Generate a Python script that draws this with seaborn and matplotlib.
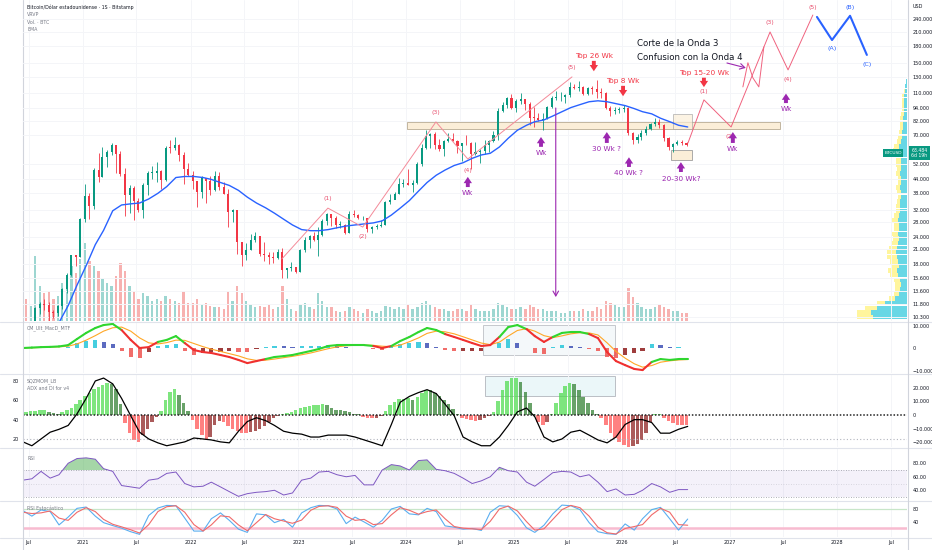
import numpy as np
import pandas as pd
import matplotlib
matplotlib.use("Agg")
import matplotlib.pyplot as plt
import matplotlib.dates as mdates
from matplotlib.patches import Rectangle
from matplotlib.lines import Line2D
from matplotlib.ticker import NullLocator, NullFormatter
import seaborn as sns

# ---------------- semi-monthly candles (thousand USD) ----------------
first_open = 9.5
close = [
    9.45, 9.14, 9.19, 11.35, 11.85, 11.65, 10.8, 10.78, 11.5, 13.8, 15.95, 19.7, 19.4, 29.0,
    36.8, 33.1, 48.6, 45.1, 55.6, 58.8, 63.2, 57.7, 46.4, 37.3, 40.2, 35.0, 31.8, 41.5, 47.1, 47.1, 48.1, 43.8, 61.5, 61.3, 63.6, 57.0, 48.9, 46.3,
    43.1, 38.5, 44.5, 43.2, 39.3, 45.5, 40.6, 37.7, 31.3, 31.8, 22.6, 19.9, 20.8, 23.3, 24.1, 20.0, 19.7, 19.4, 19.1, 20.5, 16.9, 17.2, 17.4, 16.5,
    20.9, 23.1, 24.3, 23.1, 24.4, 28.5, 30.4, 29.3, 27.2, 27.2, 25.1, 30.5, 30.3, 29.2, 29.2, 26.0, 26.6, 27.0, 27.2, 34.6, 35.5, 37.7, 41.9, 42.3,
    41.7, 42.6, 51.9, 61.1, 69.5, 71.3, 63.4, 60.6, 66.2, 67.5, 66.0, 62.7, 64.8, 64.6, 57.6, 59.0, 59.2, 63.3, 66.0, 70.2, 91.0, 96.4, 104.5, 93.4,
    100.5, 102.4, 97.5, 84.4, 84.3, 82.5, 83.6, 94.2, 103.5, 104.6, 105.5, 107.1, 117.0, 115.8, 117.4, 108.2, 115.3, 114.0, 111.0, 109.6, 94.0, 91.0, 92.0, 93.0,
    94.0, 72.0, 67.0, 69.0, 72.0, 75.0, 79.0, 81.0, 78.0, 68.0, 62.0, 64.0, 65.5, 64.5, 63.484,
]
high = [
    10.38, 9.8, 9.45, 11.45, 12.1, 12.45, 12.05, 11.1, 11.7, 14.0, 16.45, 19.8, 19.9, 29.3,
    41.9, 38.0, 49.7, 58.3, 61.7, 60.0, 64.9, 63.5, 59.5, 49.8, 41.3, 40.9, 36.0, 42.3, 48.1, 50.5, 52.9, 48.5, 62.9, 67.0, 69.0, 63.8, 59.1, 52.1,
    47.9, 43.5, 45.8, 44.9, 45.4, 48.2, 47.4, 42.9, 39.9, 32.3, 31.9, 22.6, 22.5, 24.6, 25.2, 24.3, 22.8, 20.4, 20.4, 21.0, 21.4, 17.2, 18.4, 17.5,
    21.1, 23.9, 24.4, 25.2, 26.5, 28.9, 31.0, 30.5, 29.8, 28.4, 27.5, 31.4, 31.8, 30.4, 30.0, 29.2, 27.0, 27.5, 28.6, 35.2, 37.9, 38.4, 44.7, 44.0,
    48.9, 43.7, 52.8, 64.0, 73.8, 71.8, 72.7, 67.2, 66.5, 71.9, 71.9, 66.9, 64.9, 70.0, 65.5, 65.1, 60.7, 66.5, 67.0, 73.6, 93.3, 99.6, 105.0, 108.3,
    102.7, 109.6, 102.5, 99.5, 95.0, 88.8, 88.5, 95.8, 105.7, 111.9, 110.4, 108.9, 123.2, 120.9, 124.4, 117.6, 116.8, 117.9, 126.2, 116.0, 111.0, 96.0, 95.0, 95.0,
    97.0, 95.0, 73.0, 71.0, 74.0, 77.0, 80.0, 84.0, 83.0, 79.0, 69.0, 65.0, 66.5, 66.5, 65.5,
]
low = [
    8.9, 8.85, 8.95, 9.05, 10.6, 11.1, 9.9, 10.2, 10.4, 11.2, 13.2, 15.9, 17.6, 19.3,
    28.1, 29.0, 32.3, 43.0, 45.0, 50.4, 57.0, 47.0, 45.7, 30.0, 31.0, 28.8, 31.1, 29.3, 37.3, 44.4, 43.0, 39.6, 43.3, 58.0, 60.1, 53.3, 42.0, 45.5,
    39.6, 32.9, 36.3, 34.3, 37.2, 39.0, 39.2, 37.6, 26.7, 28.0, 20.1, 17.6, 18.8, 20.8, 22.6, 19.6, 18.5, 18.1, 18.2, 18.9, 15.6, 15.5, 16.8, 16.3,
    16.5, 20.4, 21.4, 23.0, 19.6, 24.2, 27.3, 26.9, 26.3, 26.3, 24.8, 25.1, 29.6, 28.9, 28.7, 25.2, 24.9, 26.0, 26.5, 27.1, 34.1, 35.6, 37.6, 40.5,
    41.4, 38.5, 41.9, 50.6, 60.8, 61.5, 60.8, 59.2, 56.5, 65.1, 65.9, 58.4, 53.5, 63.2, 49.0, 57.1, 52.6, 57.5, 58.9, 65.5, 66.8, 89.4, 94.0, 92.2,
    89.3, 97.8, 91.2, 78.2, 76.6, 81.6, 74.4, 83.1, 93.3, 102.0, 100.4, 98.2, 105.3, 114.7, 112.0, 107.3, 107.3, 108.7, 104.0, 103.5, 93.0, 86.0, 88.0, 89.0,
    90.0, 70.0, 64.0, 65.0, 67.0, 70.0, 74.0, 77.0, 76.0, 66.0, 60.0, 59.0, 63.0, 63.0, 62.5,
]
volume = [
    18, 22, 15, 65, 35, 28, 30, 22, 25, 38, 45, 55, 48, 62,
    78, 60, 55, 50, 42, 38, 35, 45, 58, 50, 35, 30, 22, 28, 25, 20, 22, 20, 25, 22, 20, 18, 30, 18,
    18, 22, 16, 18, 15, 14, 14, 12, 30, 20, 35, 28, 20, 16, 14, 15, 14, 16, 12, 14, 35, 22, 12, 10,
    16, 18, 14, 12, 28, 20, 14, 14, 10, 9, 10, 14, 12, 10, 8, 12, 10, 8, 10, 15, 14, 12, 14, 12,
    16, 12, 14, 18, 20, 16, 14, 12, 12, 10, 10, 12, 12, 10, 16, 12, 10, 10, 10, 12, 18, 16, 14, 12,
    12, 14, 12, 16, 14, 12, 12, 10, 10, 10, 8, 8, 10, 10, 10, 12, 10, 10, 14, 12, 20, 18, 16, 14,
    14, 33, 24, 18, 14, 12, 12, 14, 16, 14, 12, 10, 10, 8, 8,
]
momentum = [
    2.0, 2.5, 3.0, 3.0, 3.5, 3.5, 2.5, 1.5, 1.0, 2.0, 4.0, 5.5, 8.0, 11.0,
    14.0, 16.5, 19.0, 20.5, 22.0, 23.5, 23.0, 19.0, 8.0, -6.0, -13.0, -18.0, -20.0, -15.0, -10.0, -5.0, -1.5, 3.0, 11.0, 17.0, 19.0, 15.0, 9.0, 3.0,
    -4.0, -10.0, -15.0, -18.0, -16.0, -7.0, -4.5, -5.5, -8.0, -10.0, -12.0, -13.0, -13.0, -12.5, -12.0, -10.0, -8.0, -5.0, -2.5, -0.5, 0.5, 1.5, 2.5, 4.0,
    5.0, 6.0, 6.5, 7.0, 7.5, 8.0, 7.5, 5.5, 4.0, 3.5, 3.0, 2.0, 1.0, 0.5, -1.5, -2.5, -2.5, -2.0, -0.5, 3.0, 7.0, 9.5, 11.5, 12.0,
    12.5, 11.0, 13.0, 16.0, 18.5, 18.0, 16.0, 14.0, 11.0, 8.0, 4.5, 0.5, -2.0, -3.0, -4.0, -4.5, -3.5, -2.0, -0.5, 2.0, 10.0, 18.0, 25.0, 27.0,
    27.0, 24.0, 17.0, 9.0, 0.5, -5.0, -7.0, -5.0, 1.0, 9.0, 16.0, 21.0, 23.5, 23.0, 18.0, 13.0, 9.0, 4.0, 0.5, -2.5, -7.0, -13.0, -17.0, -20.0,
    -22.0, -23.5, -23.0, -21.0, -18.0, -13.0, -5.0, 1.0, 1.0, -2.5, -4.5, -6.0, -7.0, -7.5, -7.5,
]

# ---------------- monthly indicator readings ----------------
ema = [
    8.0, 8.3, 8.8, 9.2, 9.7, 11.6, 14.4,
    17.7, 22.1, 25.7, 31.6, 33.6, 34.0, 34.3, 35.8, 38.0, 40.8, 44.9, 45.4,
    45.4, 44.9, 44.0, 42.6, 41.3, 39.2, 36.5, 34.3, 32.6, 30.8, 28.9, 27.2,
    25.9, 25.6, 25.6, 25.9, 26.4, 26.9, 27.2, 27.5, 27.8, 28.4, 30.2, 32.5,
    35.2, 38.9, 42.6, 46.0, 48.6, 51.0, 52.5, 55.0, 57.0, 58.0, 62.0, 68.0,
    74.0, 78.0, 81.0, 82.5, 86.0, 90.0, 94.0, 97.0, 100.0, 101.0, 100.0, 98.0,
    96.0, 93.0, 90.0, 88.0, 84.0, 81.0, 78.0, 76.6,
]
macd = [
    0.0, 0.2, 0.4, 0.5, 0.7, 1.3, 4.0,
    6.7, 8.9, 10.2, 10.7, 8.0, 3.6, 0.0, 0.4, 2.7, 3.6, 5.3, 2.2,
    -0.9, -1.8, -2.2, -3.1, -4.0, -5.3, -6.7, -5.8, -4.9, -4.0, -3.6, -3.1,
    -2.2, -1.3, -0.4, 0.9, 1.3, 1.3, 1.3, 1.3, 0.9, 0.0, 0.9, 3.1,
    4.9, 7.1, 8.9, 8.0, 6.2, 4.9, 3.6, 2.2, 0.9, 1.3, 4.9, 9.3,
    10.2, 8.4, 5.3, 2.7, 4.9, 6.7, 7.1, 7.1, 6.2, 4.4, -1.8, -5.8,
    -7.6, -9.3, -9.8, -6.2, -4.9, -5.3, -4.9, -4.9,
]
signal = [
    0.0, 0.1, 0.25, 0.4, 0.55, 0.8, 1.8,
    3.5, 5.5, 7.5, 9.0, 9.3, 7.5, 4.5, 2.3, 1.8, 2.4, 3.5, 3.4,
    2.0, 0.6, -0.5, -1.5, -2.5, -3.5, -4.8, -5.5, -5.4, -4.9, -4.3, -3.7,
    -3.0, -2.2, -1.3, -0.3, 0.5, 1.0, 1.2, 1.3, 1.2, 0.8, 0.6, 1.3,
    2.8, 4.5, 6.5, 7.5, 7.2, 6.3, 5.0, 3.6, 2.2, 1.5, 2.6, 5.3,
    7.8, 8.6, 7.5, 5.5, 4.6, 5.4, 6.3, 6.8, 6.7, 5.8, 2.3, -1.5,
    -4.5, -7.0, -8.5, -7.8, -6.3, -5.7, -5.3, -5.1,
]
macd_hist = [
    0.0, 0.1, 0.15, 0.1, 0.15, 0.5, 2.2,
    3.2, 3.4, 2.7, 1.7, -1.3, -3.9, -4.5, -1.9, 0.9, 1.2, 1.8, -1.2,
    -2.9, -2.4, -1.7, -1.6, -1.5, -1.8, -1.9, -0.3, 0.5, 0.9, 0.7, 0.6,
    0.8, 0.9, 0.9, 1.2, 0.8, 0.3, 0.1, 0.0, -0.3, -0.8, 0.3, 1.8,
    2.1, 2.6, 2.4, 0.5, -1.0, -1.4, -1.4, -1.4, -1.3, -0.2, 2.3, 4.0,
    2.4, -0.2, -2.2, -2.8, 0.3, 1.3, 0.8, 0.3, -0.5, -1.4, -4.1, -4.3,
    -3.1, -2.3, -1.3, 1.6, 1.4, 0.4, 0.4, 0.2,
]
adx = [
    17, 13, 20, 27, 30, 34, 46,
    62, 80, 83, 77, 62, 44, 27, 20, 16, 13, 15, 17,
    21, 20, 19, 17, 16, 28, 38, 42, 39, 34, 28, 26,
    25, 22, 22, 24, 24, 24, 22, 19, 16, 13, 35, 58,
    64, 68, 71, 67, 56, 44, 22, 17, 13, 13, 22, 34,
    48, 52, 43, 22, 17, 20, 27, 29, 24, 19, 16, 22,
    35, 40, 40, 37, 26, 26, 30, 33,
]
rsi = [
    55, 57, 68, 58, 63, 80, 87,
    88, 86, 72, 68, 47, 45, 43, 55, 57, 65, 67, 50,
    45, 46, 52, 45, 38, 31, 35, 37, 38, 40, 33, 36,
    55, 58, 67, 68, 63, 60, 62, 48, 48, 70, 78, 76,
    70, 84, 85, 71, 69, 65, 58, 50, 54, 60, 74, 69,
    67, 52, 46, 56, 66, 68, 67, 60, 63, 52, 38, 42,
    33, 34, 40, 50, 45, 37, 41, 41,
]
stoch_k = [
    75, 58, 77, 72, 31, 55, 82,
    86, 58, 38, 29, 21, 10, 2, 60, 83, 91, 90, 52,
    12, 12, 50, 68, 45, 18, 8, 65, 62, 38, 48, 24,
    68, 84, 91, 90, 80, 35, 55, 40, 24, 45, 80, 88,
    65, 62, 82, 72, 28, 24, 18, 20, 14, 70, 90, 88,
    60, 22, 8, 30, 65, 92, 90, 78, 38, 10, 4, 2,
    34, 15, 50, 78, 85, 50, 15, 49,
]
stoch_d = [
    70, 66, 68, 74, 52, 45, 70,
    84, 72, 48, 33, 25, 16, 6, 32, 72, 87, 90, 70,
    32, 12, 31, 59, 56, 31, 13, 38, 63, 50, 43, 36,
    46, 76, 88, 90, 85, 58, 45, 48, 32, 35, 62, 84,
    76, 64, 72, 77, 50, 26, 21, 19, 17, 42, 80, 89,
    74, 41, 15, 19, 48, 78, 91, 84, 58, 24, 7, 3,
    20, 26, 32, 62, 82, 70, 32, 30,
]

# ---------------- visible range volume profile ----------------
vp_price = [10.3, 10.8, 11.3, 11.9, 12.5, 13.1, 13.8, 14.5, 15.2, 16.0, 16.8, 17.6, 18.5, 19.4, 20.4, 21.4, 22.5,
            23.6, 24.8, 26.0, 27.3, 28.7, 30.1, 31.6, 33.2, 34.9, 36.6, 38.5, 40.4, 42.4, 44.5, 46.8, 49.1, 51.6,
            54.1, 56.8, 59.7, 62.7, 65.8, 69.1, 72.6, 76.2, 80.0, 84.0, 88.2, 92.6, 97.2, 102, 107, 112, 118, 124]
vp_up = [34, 36, 30, 22, 12, 8, 7, 6, 7, 9, 10, 8, 9, 10, 11, 10, 9, 8, 9, 8, 8, 9, 8, 7, 7, 7,
         6, 6, 7, 6, 6, 7, 6, 6, 6, 7, 8, 8, 6, 5, 5, 4, 4, 4, 3, 3, 3, 3, 3, 2, 2, 1]
vp_down = [16, 14, 12, 8, 6, 5, 5, 6, 6, 8, 9, 8, 8, 10, 9, 8, 7, 6, 6, 5, 5, 6, 5, 4, 4, 3,
           3, 4, 4, 3, 3, 4, 4, 5, 5, 6, 6, 5, 4, 4, 3, 3, 3, 3, 3, 2, 2, 2, 2, 1, 0, 0]

price_ticks = [240, 210, 180, 150, 130, 110, 94, 82, 70, 52, 44, 38, 32, 28, 24, 21, 18, 15.6, 13.6, 11.8, 10.3]
x_tick_dates = ["2020-07-01", "2021-01-01", "2021-07-01", "2022-01-01", "2022-07-01", "2023-01-01",
                "2023-07-01", "2024-01-01", "2024-07-01", "2025-01-01", "2025-07-01", "2026-01-01",
                "2026-07-01", "2027-01-01", "2027-07-01", "2028-01-01", "2028-07-01"]
x_tick_labels = ["Jul", "2021", "Jul", "2022", "Jul", "2023", "Jul", "2024", "Jul", "2025", "Jul",
                 "2026", "Jul", "2027", "Jul", "2028", "Jul"]

# ---------------- drawings on the chart ----------------
wave_dates = ["2022-11-06", "2023-04-11", "2023-08-07", "2024-04-11", "2024-07-28", "2025-07-16"]
wave_prices = [19.0, 32.5, 26.6, 80.8, 54.6, 130]
wave_label_prices = [35.8, 24.0, 89.5, 48.6, 143]
proj_dates = ["2026-08-13", "2026-10-06", "2027-01-06", "2027-05-18", "2027-07-18", "2027-10-10"]
proj_prices = [64.7, 102, 76.6, 209, 140, 250]
proj_label_dates = ["2026-10-06", "2027-01-02", "2027-05-18", "2027-07-18", "2027-10-10"]
proj_label_prices = [111, 68.9, 231, 126, 270]
zig_dates = ["2027-02-15", "2027-03-04", "2027-03-21", "2027-04-10", "2027-04-27"]
zig_prices = [117, 151, 128.6, 117, 178.5]
abc_dates = ["2027-10-24", "2027-12-14", "2028-02-13", "2028-04-10"]
abc_prices = [245, 192, 248, 164]
abc_labels = ["(A)", "(B)", "(C)"]
abc_label_prices = [175, 272, 149]
up_marks = [("2024-07-28", 40.6, 45.2, "Wk", 38.1),
            ("2025-04-02", 62.1, 68.9, "Wk", 58.4),
            ("2025-11-11", 64.7, 72.6, "30 Wk ?", 60.8),
            ("2026-01-25", 50.2, 55.6, "40 Wk ?", 47.1),
            ("2026-07-20", 47.6, 52.8, "20-30 Wk?", 44.4),
            ("2027-01-12", 64.7, 72.6, "Wk", 60.8),
            ("2027-07-11", 98.6, 109, "Wk", 92.2)]
top_marks = [("2025-09-28", "Top 26 Wk", 162, 154, 138),
             ("2026-01-05", "Top 8 Wk", 124.6, 118.3, 106),
             ("2026-10-06", "Top 15-20 Wk", 135.6, 128.9, 116.7)]

sns.set_theme(style="white")
plt.rcParams["font.family"] = ["DejaVu Sans"]

W, H = 932, 550
fig = plt.figure(figsize=(W / 100, H / 100), dpi=100)
fig.patch.set_facecolor("white")


def pane(x0, y0, x1, y1):
    return fig.add_axes([x0 / W, 1 - y1 / H, (x1 - x0) / W, (y1 - y0) / H])


def dn(s):
    return mdates.datestr2num(s)


months = pd.date_range("2020-06-01", "2026-08-01", freq="MS")
halves = []
for m in months:
    halves += [m, m + pd.Timedelta(days=15)]
halves = pd.DatetimeIndex(halves[:len(close)])
cx = mdates.date2num(halves + pd.Timedelta(days=7))
mx = mdates.date2num(months + pd.Timedelta(days=11))
xlim = (dn("2020-06-12"), dn("2028-08-24"))
xt = dn(x_tick_dates)
TICK = 3.5
TXT = "#131722"
GRID = "#f4f5f8"


def style(a, ylim):
    a.set_xlim(*xlim)
    a.set_ylim(*ylim)
    a.set_xticks(xt)
    a.tick_params(axis="x", length=0, labelbottom=False)
    a.tick_params(axis="y", length=0, labelsize=TICK, labelcolor=TXT, pad=4)
    a.grid(True, axis="x", color=GRID, lw=0.7)
    a.patch.set_visible(False)
    for s in a.spines.values():
        s.set_visible(False)


def signed(v, dec):
    if v == 0:
        return "0"
    return ("\u2212" if v < 0 else "") + f"{abs(v):.{dec}f}"


# ---------------- main price pane ----------------
ax = pane(23, 0, 907, 321)
axv = ax.twinx()
axp = pane(807, 0, 907, 321)
axv.set_zorder(1)
axp.set_zorder(2)
ax.set_zorder(3)

c = np.array(close)
h = np.array(high)
l = np.array(low)
o = np.r_[first_open, c[:-1]]
up = c >= o
col = np.where(up, "#089981", "#f23645")

style(axv, (0, 321))
axv.set_yticks([])
axv.bar(cx, volume, width=8, color=np.where(up, "#26a69a", "#ef5350"), alpha=0.45, lw=0)

axp.set_yscale("log")
axp.set_ylim(9.86, 293)
axp.set_xlim(100, 0)
vp = np.array(vp_price)
axp.barh(vp, vp_up, height=vp * 0.045, color="#4dd0e1", alpha=0.85, lw=0)
axp.barh(vp, vp_down, left=vp_up, height=vp * 0.045, color="#fff59d", lw=0)
axp.axis("off")

ax.set_yscale("log")
style(ax, (9.86, 293))
ax.yaxis.tick_right()
ax.set_yticks(price_ticks)
ax.set_yticklabels([f"{v:.3f}" for v in price_ticks])
ax.yaxis.set_minor_locator(NullLocator())
ax.yaxis.set_minor_formatter(NullFormatter())
ax.grid(True, axis="y", color=GRID, lw=0.7)

ax.vlines(cx, l, h, colors=col, lw=0.6, zorder=3)
ax.bar(cx, np.maximum(np.abs(c - o), c * 0.006), bottom=np.minimum(o, c), width=7,
       color=col, lw=0, zorder=3)
sns.lineplot(x=mx, y=ema, ax=ax, color="#2962ff", lw=1.0, zorder=4)
ax.set_xlabel("")
ax.set_ylabel("")

# support band and boxes
ax.add_patch(Rectangle((dn("2024-01-04"), 75.3), dn("2027-06-21") - dn("2024-01-04"), 80.8 - 75.3,
                       fc="#fbeed8", ec="#b9ab93", lw=0.6, zorder=2))
ax.add_patch(Rectangle((dn("2026-06-23"), 75.3), dn("2026-08-26") - dn("2026-06-23"), 87.4 - 75.3,
                       fc="#fbeed8", ec="#9e9e9e", lw=0.6, alpha=0.7, zorder=2))
ax.add_patch(Rectangle((dn("2026-06-16"), 54.2), dn("2026-08-26") - dn("2026-06-16"), 60.0 - 54.2,
                       fc="#fbeed8", ec="#9e9e9e", lw=0.6, zorder=2))

# past impulse 1-5
ax.plot(dn(wave_dates), wave_prices, color="#f48a99", lw=0.7, zorder=5)
for i in range(5):
    ax.text(dn(wave_dates[i + 1]), wave_label_prices[i], f"({i + 1})", ha="center", va="center",
            fontsize=4.5, color="#e8506e", zorder=6)

# projected impulse
ax.plot(dn(proj_dates), proj_prices, color="#f0627e", lw=0.7, zorder=5)
ax.plot(dn(zig_dates), zig_prices, color="#f0627e", lw=0.7, zorder=5)
for i in range(5):
    ax.text(dn(proj_label_dates[i]), proj_label_prices[i], f"({i + 1})", ha="center", va="center",
            fontsize=4.5, color="#e8506e", zorder=6)

# ABC correction
ax.plot(dn(abc_dates), abc_prices, color="#2962ff", lw=1.5, zorder=5)
for i in range(3):
    ax.text(dn(abc_dates[i + 1]), abc_label_prices[i], abc_labels[i], ha="center", va="center",
            fontsize=4.6, color="#2962ff", zorder=6)


def block_arrow(x, y_from, y_to, color):
    ax.annotate("", xy=(x, y_to), xytext=(x, y_from),
                arrowprops=dict(arrowstyle="simple,head_length=0.45,head_width=0.6,tail_width=0.28",
                                fc=color, ec="none", shrinkA=0, shrinkB=0, mutation_scale=10),
                zorder=6)


for d, y0, y1, label, ly in up_marks:
    block_arrow(dn(d), y0, y1, "#9c27b0")
    ax.text(dn(d), ly, label, ha="center", va="center", fontsize=5.2, color="#9c27b0", zorder=6)

for d, label, ty, y0, y1 in top_marks:
    ax.text(dn(d), ty, label, ha="center", va="center", fontsize=5.3, color="#f23645", zorder=6)
    block_arrow(dn(d), y0, y1, "#f23645")

ax.annotate("", xy=(dn("2025-05-22"), 12.7), xytext=(dn("2025-05-22"), 93.6),
            arrowprops=dict(arrowstyle="->,head_length=0.35,head_width=0.2", color="#9c27b0",
                            lw=0.8, shrinkA=0, shrinkB=0, mutation_scale=10), zorder=6)

ax.text(dn("2026-02-21"), 186, "Corte de la Onda 3", ha="left", va="center", fontsize=6.2,
        color=TXT, zorder=6)
ax.text(dn("2026-02-21"), 160, "Confusion con la Onda 4", ha="left", va="center", fontsize=6.2,
        color=TXT, zorder=6)
ax.annotate("", xy=(dn("2027-02-25"), 143), xytext=(dn("2026-12-23"), 150.6),
            arrowprops=dict(arrowstyle="->,head_length=0.35,head_width=0.2", color="#9c27b0",
                            lw=0.8, shrinkA=0, shrinkB=0, mutation_scale=10), zorder=6)

# ---------------- MACD pane ----------------
axm = pane(23, 322, 907, 373)
style(axm, (-11.1, 11.56))
axm.yaxis.tick_right()
axm.set_yticks([10, 0, -10])
axm.set_yticklabels([signed(v, 3) for v in [10, 0, -10]])
hv = np.array(macd_hist)
hp = np.r_[hv[0], hv[:-1]]
hcol = np.where(hv >= 0, np.where(hv >= hp, "#26c6da", "#3f51b5"),
                np.where(hv < hp, "#ef5350", "#8e1b1b"))
axm.bar(mx, hv, width=14, color=hcol, alpha=0.85, lw=0)
sns.lineplot(x=mx, y=signal, ax=axm, color="#ffa726", lw=0.8)
for i in range(len(mx) - 1):
    seg_col = "#2fd62f" if macd[i] >= signal[i] else "#f03030"
    axm.plot(mx[i:i + 2], macd[i:i + 2], color=seg_col, lw=1.5, solid_capstyle="round")
axm.add_patch(Rectangle((dn("2024-09-17"), -3.1), dn("2025-12-08") - dn("2024-09-17"), 13.3,
                        fc="#eef4f8", ec="#9598a1", lw=0.6, alpha=0.6, zorder=0))
axm.set_xlabel("")
axm.set_ylabel("")

# ---------------- SQZMOM + ADX pane ----------------
axs = pane(23, 374, 907, 447)
style(axs, (-23.5, 30.1))
axa = axs.twinx()
style(axa, (11.7, 87.2))
axs.yaxis.tick_right()
axa.yaxis.tick_left()
axs.set_yticks([20, 10, 0, -10, -20])
axs.set_yticklabels([signed(v, 3) for v in [20, 10, 0, -10, -20]])
axa.set_yticks([80, 60, 40, 20])
axa.set_yticklabels(["80", "60", "40", "20"])
axa.tick_params(axis="y", pad=3)
mv = np.array(momentum)
mp = np.r_[mv[0], mv[:-1]]
mcol = np.where(mv >= 0, np.where(mv >= mp, "#4cdb4c", "#2f7f2f"),
                np.where(mv <= mp, "#ff5050", "#8b1c1c"))
axs.bar(cx, mv, width=12, color=mcol, alpha=0.72, lw=0)
axs.axhline(0, color="#222222", ls=(0, (1, 1.2)), lw=1.1)
axs.add_patch(Rectangle((dn("2024-09-24"), 14.0), dn("2025-12-08") - dn("2024-09-24"), 14.7,
                        fc="#e3f4f7", ec="#9598a1", lw=0.6, alpha=0.7, zorder=0))
axa.axhline(20, color="#b2b5be", ls=(0, (1, 2)), lw=0.8)
sns.lineplot(x=mx, y=adx, ax=axa, color="black", lw=0.9)
axa.set_xlabel("")
axa.set_ylabel("")

# ---------------- RSI pane ----------------
axr = pane(23, 448, 907, 500)
style(axr, (25.6, 102.6))
axr.yaxis.tick_right()
axr.set_yticks([80, 60, 40])
axr.set_yticklabels(["80.00", "60.00", "40.00"])
axr.axhspan(30, 70, color="#7e57c2", alpha=0.08, lw=0)
for lv, a in [(70, 1.0), (30, 1.0), (50, 0.4)]:
    axr.axhline(lv, color="#9598a1", ls=(0, (1, 2)), lw=0.6, alpha=a)
rv = np.array(rsi, dtype=float)
axr.fill_between(mx, rv, 70, where=rv > 70, interpolate=True, color="#4caf50", alpha=0.5, lw=0)
sns.lineplot(x=mx, y=rv, ax=axr, color="#7e57c2", lw=0.7)
axr.set_xlabel("")
axr.set_ylabel("")

# ---------------- Stochastic RSI pane ----------------
axk = pane(23, 501, 907, 537)
style(axk, (-6.2, 104.6))
axk.yaxis.tick_right()
axk.set_yticks([80, 40])
axk.set_yticklabels(["80", "40"])
axk.axhline(80, color="#c8e6c9", lw=0.9)
axk.axhline(20, color="#f8bbd0", lw=1.8)
sns.lineplot(x=mx, y=stoch_k, ax=axk, color="#5aaef0", lw=0.8)
sns.lineplot(x=mx, y=stoch_d, ax=axk, color="#f06a6a", lw=0.8)
axk.set_xlabel("")
axk.set_ylabel("")
axk.tick_params(axis="x", labelbottom=True, labelsize=TICK, labelcolor=TXT, pad=2.5)
axk.set_xticklabels(x_tick_labels)

# ---------------- frame, separators and texts ----------------
for y in [321.5, 373.5, 447.5, 500.5, 537.5]:
    fig.add_artist(Line2D([0, 1], [1 - y / H] * 2, color="#e0e3eb", lw=0.8, transform=fig.transFigure))
fig.add_artist(Line2D([907.5 / W] * 2, [0, 1], color="#d1d4dc", lw=0.8, transform=fig.transFigure))
fig.add_artist(Line2D([23 / W] * 2, [0, 1], color="#d1d4dc", lw=0.8, transform=fig.transFigure))


def ftext(x, y, s, **kw):
    fig.text(x / W, 1 - y / H, s, va="center", **kw)


ftext(27, 7, "Bitcoin/Dólar estadounidense · 1S · Bitstamp", fontsize=3.4, color=TXT)
ftext(27, 14.5, "VRVP", fontsize=3.4, color="#787b86")
ftext(27, 22, "Vol. · BTC", fontsize=3.4, color="#787b86")
ftext(27, 29.5, "EMA", fontsize=3.4, color="#787b86")
ftext(27, 328, "CM_Ult_MacD_MTF", fontsize=3.4, color="#787b86")
ftext(27, 381, "SQZMOM_LB", fontsize=3.4, color="#787b86")
ftext(27, 388, "ADX and DI for v4", fontsize=3.4, color="#787b86")
ftext(27, 459, "RSI", fontsize=3.4, color="#787b86")
ftext(27, 509, "RSI Estocástico", fontsize=3.4, color="#787b86")
ftext(913, 7, "USD", fontsize=3.5, color=TXT)
ftext(893, 153, "BTCUSD", fontsize=3.2, color="white", ha="center",
      bbox=dict(boxstyle="square,pad=0.35", fc="#089981", ec="none"))
ftext(919.5, 153, "63.484\n6d 19h", fontsize=3.3, color="white", ha="center", linespacing=1.15,
      bbox=dict(boxstyle="square,pad=0.45", fc="#089981", ec="none"))

fig.savefig("out.png", dpi=100, facecolor="white")
